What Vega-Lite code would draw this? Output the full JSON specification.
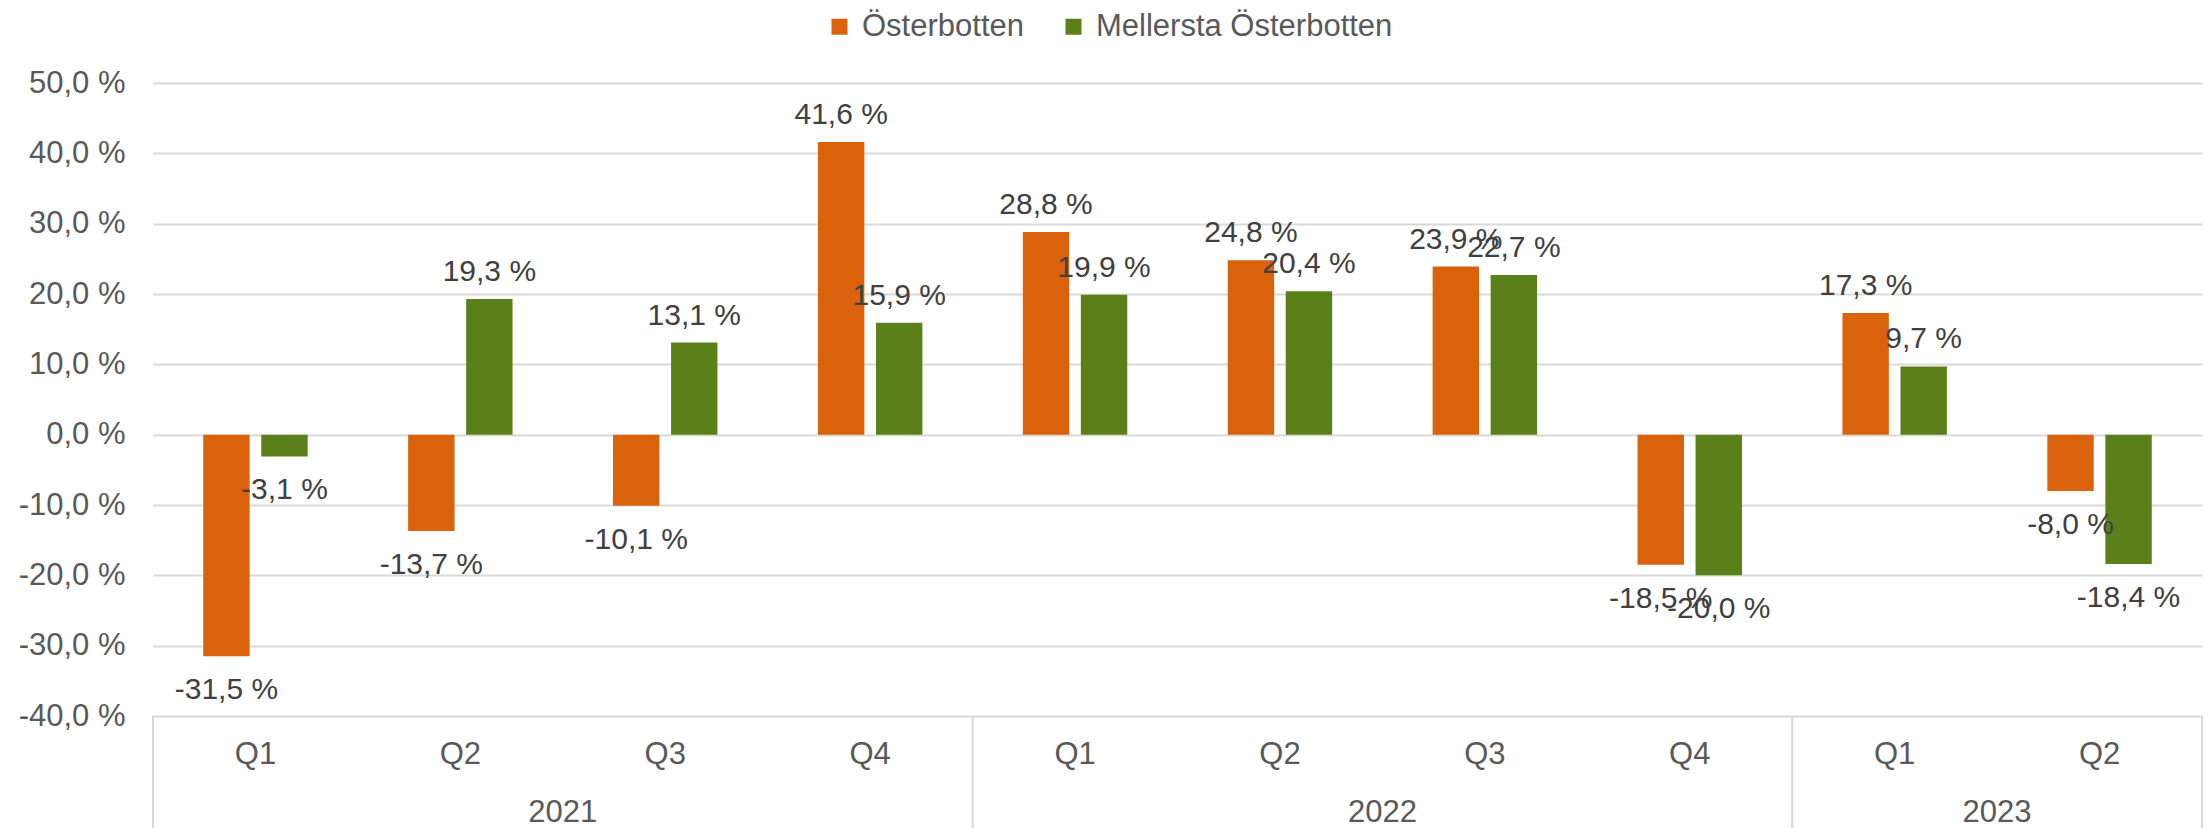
{
  "$schema": "https://vega.github.io/schema/vega-lite/v6.json",
  "width": 2049,
  "height": 633,
  "autosize": {"type": "none"},
  "padding": {"left": 153, "top": 83, "right": 9, "bottom": 112},
  "background": "white",
  "config": {
    "view": {"stroke": null},
    "font": "Liberation Sans",
    "axis": {"labelFont": "Liberation Sans", "labelColor": "#595959", "labelFontSize": 31},
    "legend": {"labelFont": "Liberation Sans"}
  },
  "datasets": {
    "bars": [
      {"cat": "2021 Q1", "series": "Österbotten", "value": -31.5},
      {"cat": "2021 Q1", "series": "Mellersta Österbotten", "value": -3.1},
      {"cat": "2021 Q2", "series": "Österbotten", "value": -13.7},
      {"cat": "2021 Q2", "series": "Mellersta Österbotten", "value": 19.3},
      {"cat": "2021 Q3", "series": "Österbotten", "value": -10.1},
      {"cat": "2021 Q3", "series": "Mellersta Österbotten", "value": 13.1},
      {"cat": "2021 Q4", "series": "Österbotten", "value": 41.6},
      {"cat": "2021 Q4", "series": "Mellersta Österbotten", "value": 15.9},
      {"cat": "2022 Q1", "series": "Österbotten", "value": 28.8},
      {"cat": "2022 Q1", "series": "Mellersta Österbotten", "value": 19.9},
      {"cat": "2022 Q2", "series": "Österbotten", "value": 24.8},
      {"cat": "2022 Q2", "series": "Mellersta Österbotten", "value": 20.4},
      {"cat": "2022 Q3", "series": "Österbotten", "value": 23.9},
      {"cat": "2022 Q3", "series": "Mellersta Österbotten", "value": 22.7},
      {"cat": "2022 Q4", "series": "Österbotten", "value": -18.5},
      {"cat": "2022 Q4", "series": "Mellersta Österbotten", "value": -20.0},
      {"cat": "2023 Q1", "series": "Österbotten", "value": 17.3},
      {"cat": "2023 Q1", "series": "Mellersta Österbotten", "value": 9.7},
      {"cat": "2023 Q2", "series": "Österbotten", "value": -8.0},
      {"cat": "2023 Q2", "series": "Mellersta Österbotten", "value": -18.4}
    ],
    "starts": [{"cat": "2021 Q1"}, {"cat": "2022 Q1"}, {"cat": "2023 Q1"}],
    "ends": [{"cat": "2023 Q2"}]
  },
  "layer": [
    {
      "data": {"name": "bars"},
      "mark": {"type": "bar"},
      "encoding": {
        "x": {
          "field": "cat", "type": "nominal",
          "scale": {"domain": ["2021 Q1","2021 Q2","2021 Q3","2021 Q4","2022 Q1","2022 Q2","2022 Q3","2022 Q4","2023 Q1","2023 Q2"], "paddingInner": 0, "paddingOuter": 0},
          "axis": {"title": null, "orient": "bottom", "labelExpr": "split(datum.value, ' ')[1]", "labelAngle": 0, "labelPadding": 23, "ticks": false, "domain": false, "grid": false}
        },
        "xOffset": {
          "field": "series", "type": "nominal",
          "scale": {"domain": ["Österbotten", "Mellersta Österbotten"], "paddingInner": 0.2, "paddingOuter": 0.866}
        },
        "y": {
          "field": "value", "type": "quantitative",
          "scale": {"domain": [-40, 50], "nice": false, "zero": false},
          "axis": {"title": null, "values": [-40,-30,-20,-10,0,10,20,30,40,50], "labelExpr": "(datum.value < 0 ? '-' : '') + replace(format(abs(datum.value), '.1f'), '.', ',') + ' %'", "grid": true, "gridColor": "#d9d9d9", "gridWidth": 2, "domain": false, "ticks": false, "labelPadding": 28}
        },
        "color": {
          "field": "series", "type": "nominal",
          "scale": {"domain": ["Österbotten", "Mellersta Österbotten"], "range": ["#DA620D", "#5B801A"]},
          "legend": {"orient": "none", "legendX": 671, "legendY": -72, "direction": "horizontal", "title": null, "symbolType": "square", "symbolSize": 256, "symbolStrokeWidth": 0, "labelFontSize": 31, "labelColor": "#595959", "labelOffset": 7, "labelLimit": 0, "columnPadding": 34, "padding": 0}
        }
      }
    },
    {
      "data": {"name": "bars"},
      "transform": [
        {"filter": "datum.value >= 0"},
        {"calculate": "replace(format(abs(datum.value), '.1f'), '.', ',') + ' %'", "as": "label"}
      ],
      "mark": {"type": "text", "baseline": "alphabetic", "align": "center", "dy": -18, "fontSize": 30, "color": "#404040", "font": "Liberation Sans"},
      "encoding": {
        "x": {"field": "cat", "type": "nominal", "scale": {"domain": ["2021 Q1","2021 Q2","2021 Q3","2021 Q4","2022 Q1","2022 Q2","2022 Q3","2022 Q4","2023 Q1","2023 Q2"], "paddingInner": 0, "paddingOuter": 0}, "axis": null},
        "xOffset": {"field": "series", "type": "nominal", "scale": {"domain": ["Österbotten", "Mellersta Österbotten"], "paddingInner": 0.2, "paddingOuter": 0.866}},
        "y": {"field": "value", "type": "quantitative", "scale": {"domain": [-40, 50], "nice": false, "zero": false}, "axis": {"title": null, "values": [-40,-30,-20,-10,0,10,20,30,40,50], "labelExpr": "(datum.value < 0 ? '-' : '') + replace(format(abs(datum.value), '.1f'), '.', ',') + ' %'", "grid": true, "gridColor": "#d9d9d9", "gridWidth": 2, "domain": false, "ticks": false, "labelPadding": 28}},
        "text": {"field": "label", "type": "nominal"}
      }
    },
    {
      "data": {"name": "bars"},
      "transform": [
        {"filter": "datum.value < 0"},
        {"calculate": "'-' + replace(format(abs(datum.value), '.1f'), '.', ',') + ' %'", "as": "label"}
      ],
      "mark": {"type": "text", "baseline": "alphabetic", "align": "center", "dy": 43, "fontSize": 30, "color": "#404040", "font": "Liberation Sans"},
      "encoding": {
        "x": {"field": "cat", "type": "nominal", "scale": {"domain": ["2021 Q1","2021 Q2","2021 Q3","2021 Q4","2022 Q1","2022 Q2","2022 Q3","2022 Q4","2023 Q1","2023 Q2"], "paddingInner": 0, "paddingOuter": 0}, "axis": null},
        "xOffset": {"field": "series", "type": "nominal", "scale": {"domain": ["Österbotten", "Mellersta Österbotten"], "paddingInner": 0.2, "paddingOuter": 0.866}},
        "y": {"field": "value", "type": "quantitative", "scale": {"domain": [-40, 50], "nice": false, "zero": false}, "axis": {"title": null, "values": [-40,-30,-20,-10,0,10,20,30,40,50], "labelExpr": "(datum.value < 0 ? '-' : '') + replace(format(abs(datum.value), '.1f'), '.', ',') + ' %'", "grid": true, "gridColor": "#d9d9d9", "gridWidth": 2, "domain": false, "ticks": false, "labelPadding": 28}},
        "text": {"field": "label", "type": "nominal"}
      }
    },
    {
      "data": {"name": "starts"},
      "mark": {"type": "rule", "color": "#d9d9d9", "strokeWidth": 2},
      "encoding": {
        "x": {
          "field": "cat", "type": "nominal", "bandPosition": 0,
          "scale": {"domain": ["2021 Q1","2021 Q2","2021 Q3","2021 Q4","2022 Q1","2022 Q2","2022 Q3","2022 Q4","2023 Q1","2023 Q2"], "paddingInner": 0, "paddingOuter": 0},
          "axis": {"title": null, "orient": "bottom", "labelExpr": "indexof(['2021 Q2','2022 Q2','2023 Q1'], datum.value) >= 0 ? slice(datum.value, 0, 4) : ''", "labelAngle": 0, "labelOffset": 102.45, "labelPadding": 81, "ticks": false, "domain": false, "grid": false}
        },
        "y": {"datum": -40, "type": "quantitative", "scale": {"domain": [-40, 50], "nice": false, "zero": false}, "axis": {"title": null, "values": [-40,-30,-20,-10,0,10,20,30,40,50], "labelExpr": "(datum.value < 0 ? '-' : '') + replace(format(abs(datum.value), '.1f'), '.', ',') + ' %'", "grid": true, "gridColor": "#d9d9d9", "gridWidth": 2, "domain": false, "ticks": false, "labelPadding": 28}},
        "y2": {"datum": -56}
      }
    },
    {
      "data": {"name": "ends"},
      "mark": {"type": "rule", "color": "#d9d9d9", "strokeWidth": 2},
      "encoding": {
        "x": {
          "field": "cat", "type": "nominal", "bandPosition": 1,
          "scale": {"domain": ["2021 Q1","2021 Q2","2021 Q3","2021 Q4","2022 Q1","2022 Q2","2022 Q3","2022 Q4","2023 Q1","2023 Q2"], "paddingInner": 0, "paddingOuter": 0},
          "axis": null
        },
        "y": {"datum": -40, "type": "quantitative", "scale": {"domain": [-40, 50], "nice": false, "zero": false}, "axis": {"title": null, "values": [-40,-30,-20,-10,0,10,20,30,40,50], "labelExpr": "(datum.value < 0 ? '-' : '') + replace(format(abs(datum.value), '.1f'), '.', ',') + ' %'", "grid": true, "gridColor": "#d9d9d9", "gridWidth": 2, "domain": false, "ticks": false, "labelPadding": 28}},
        "y2": {"datum": -56}
      }
    }
  ],
  "resolve": {"axis": {"x": "independent"}}
}
